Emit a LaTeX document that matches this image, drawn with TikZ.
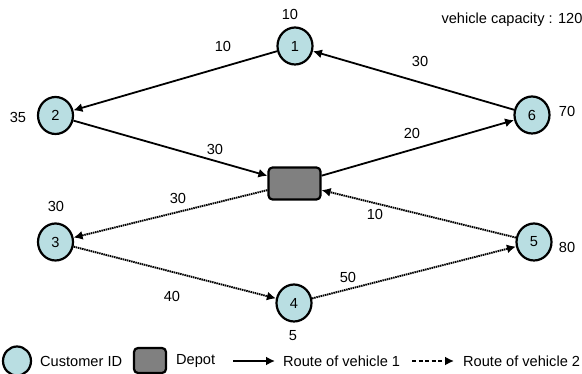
\documentclass[tikz,border=0pt]{standalone}
\usepackage{fontspec}
\setmainfont{Liberation Sans}
\usetikzlibrary{shapes.geometric,arrows.meta}
\definecolor{custfill}{RGB}{185,222,226}
\definecolor{depotfill}{RGB}{128,128,128}

\begin{document}
\begin{tikzpicture}[x=1pt,y=-1pt,
    customer/.style={draw, ellipse, fill=custfill, line width=2.2pt,
      minimum width=35pt, minimum height=37pt, inner sep=0pt, font=\fontsize{14.6}{16}\selectfont},
    depot/.style={draw, rectangle, rounded corners=4pt, fill=depotfill, line width=2.2pt,
      minimum width=52pt, minimum height=32pt},
    lbl/.style={inner sep=0pt, font=\fontsize{14.6}{16}\selectfont},
    route1/.style={line width=1.8pt, -{Latex[length=9pt,width=9pt]}},
    route2/.style={line width=1.9pt, dash pattern=on 1.5pt off 0.7pt, -{Latex[length=9pt,width=9pt]}},
    route2key/.style={line width=1.8pt, dash pattern=on 4pt off 2.5pt, -{Latex[length=9pt,width=9pt]}}]
  \useasboundingbox (0,0) rectangle (582,374);

  % customers and depot
  \node[customer] (c1) at (295,46) {1};
  \node[customer] (c2) at (55.5,115.5) {2};
  \node[customer] (c3) at (55.5,242) {3};
  \node[customer] (c4) at (294,303) {4};
  \node[customer] (c5) at (534,242) {5};
  \node[customer] (c6) at (532,115) {6};
  \node[depot] (dep) at (294.5,183.5) {};

  % demands
  \node[lbl] (d1) at (290,14) {10};
  \node[lbl] (d2) at (18,117) {35};
  \node[lbl] (d3) at (56,206) {30};
  \node[lbl] (d4) at (293,336) {5};
  \node[lbl] (d5) at (567,247) {80};
  \node[lbl] (d6) at (567,111) {70};
  \node[lbl] (cap) at (512,20) {vehicle capacity : 120};

  % routes
  \draw[route1] (c1) -- (c2);
  \draw[route1] (c2) -- (dep);
  \draw[route1] (dep) -- (c6);
  \draw[route1] (c6) -- (c1);
  \draw[route2] (dep) -- (c3);
  \draw[route2] (c3) -- (c4);
  \draw[route2] (c4) -- (c5);
  \draw[route2] (c5) -- (dep);

  % distances
  \node[lbl] (e12) at (223,46) {10};
  \node[lbl] (e2d) at (215,149) {30};
  \node[lbl] (ed6) at (412,133) {20};
  \node[lbl] (e61) at (420,61) {30};
  \node[lbl] (ed3) at (178,198) {30};
  \node[lbl] (e34) at (172,296) {40};
  \node[lbl] (e45) at (348,277) {50};
  \node[lbl] (e5d) at (375,214) {10};

  % legend
  \node[customer, minimum width=28pt, minimum height=29pt] (kc) at (17,361) {};
  \node[lbl, anchor=west] (kct) at (40,361) {Customer ID};
  \node[depot, minimum width=32pt, minimum height=25pt] (kd) at (150,360.5) {};
  \node[lbl, anchor=west] (kdt) at (176,361) {Depot};
  \coordinate (k1a) at (233,361);
  \coordinate (k1b) at (275,361);
  \draw[route1] (k1a) -- (k1b);
  \node[lbl, anchor=west] (k1t) at (283,361) {Route of vehicle 1};
  \coordinate (k2a) at (412,361);
  \coordinate (k2b) at (454,361);
  \draw[route2key] (k2a) -- (k2b);
  \node[lbl, anchor=west] (k2t) at (463,361) {Route of vehicle 2};
\end{tikzpicture}
\end{document}
